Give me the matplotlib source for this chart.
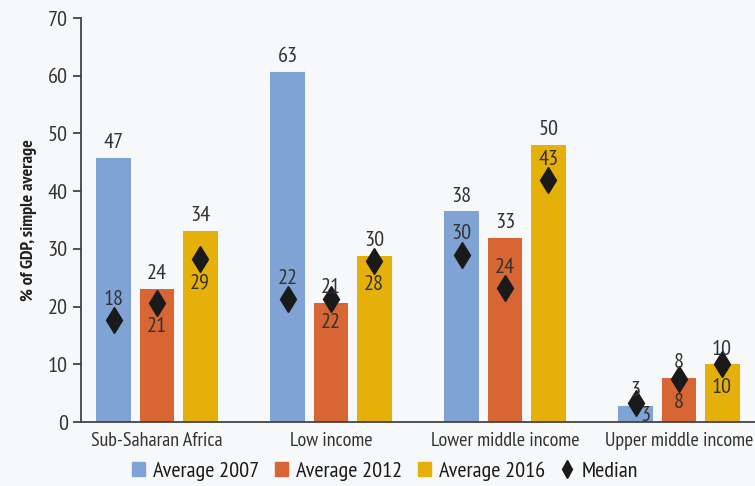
import numpy as np
import matplotlib.pyplot as plt
from matplotlib.patches import Patch
from matplotlib.lines import Line2D

plt.rcParams['font.family'] = ['PT Sans Narrow', 'DejaVu Sans']

categories = ["Sub-Saharan Africa", "Low income", "Lower middle income", "Upper middle income"]
series = ["Average 2007", "Average 2012", "Average 2016"]

# bar heights as drawn, and the printed labels
avg_2007 = [45.8, 60.7, 36.5, 2.8]
avg_2012 = [23.0, 20.7, 31.9, 7.7]
avg_2016 = [33.1, 28.8, 48.0, 10.0]
avg_labels_2007 = ["47", "63", "38", "3"]
avg_labels_2012 = ["24", "21", "33", "8"]
avg_labels_2016 = ["34", "30", "50", "10"]

# medians (diamonds) and their printed labels
med_2007 = [17.6, 21.3, 29.0, 3.3]
med_2012 = [20.6, 21.3, 23.2, 7.5]
med_2016 = [28.2, 27.9, 41.9, 10.0]
med_labels_2007 = ["18", "22", "30", "3"]
med_labels_2012 = ["21", "22", "24", "8"]
med_labels_2016 = ["29", "28", "43", "10"]
# where the median label sits relative to the diamond
med_pos_2007 = ["above", "above", "above", "below"]
med_pos_2012 = ["below", "below", "above", "below"]
med_pos_2016 = ["below", "below", "above", "below"]

colors = ["#80a3d6", "#d76634", "#e6b00b"]
text_col = "#333333"

avgs = [avg_2007, avg_2012, avg_2016]
avg_labels = [avg_labels_2007, avg_labels_2012, avg_labels_2016]
meds = [med_2007, med_2012, med_2016]
med_labels = [med_labels_2007, med_labels_2012, med_labels_2016]
med_pos = [med_pos_2007, med_pos_2012, med_pos_2016]

fig = plt.figure(figsize=(7.55, 4.86), dpi=100, facecolor="#f7f8fa")
ax = fig.add_axes([81 / 755, 1 - 422 / 486, 1 - 81 / 755, (422 - 18) / 486])
ax.set_facecolor("#f7f8fa")

x = np.arange(len(categories))
width = 0.2
step = 0.248

for i in range(3):
    xs = x + (i - 1) * step
    ax.bar(xs, avgs[i], width=width, color=colors[i], zorder=2)
    ax.plot(xs, meds[i], linestyle="none", marker="d", markersize=13,
            color="#1a1a1a", zorder=3)
    for j in range(len(categories)):
        ax.annotate(avg_labels[i][j], (xs[j], avgs[i][j]), xytext=(0, 11),
                    textcoords="offset points", ha="center", va="center",
                    fontsize=16, color=text_col)
        dy = 15 if med_pos[i][j] == "above" else -17
        dx = 0
        if i == 0 and j == 3:
            # tiny bar: label squeezed next to the diamond
            dx, dy = 7, -9
        ax.annotate(med_labels[i][j], (xs[j], meds[i][j]), xytext=(dx, dy),
                    textcoords="offset points", ha="center", va="center",
                    fontsize=16, color=text_col, zorder=4)

ax.set_xlim(-0.437, 3.437)
ax.set_ylim(0, 70)
ax.set_yticks(range(0, 71, 10))
ax.set_xticks(x)
ax.set_xticklabels(categories)
ax.tick_params(axis="y", labelsize=16, colors=text_col, length=6, width=1.2)
ax.tick_params(axis="x", labelsize=14.5, colors=text_col, length=0, pad=7)
for s in ["top", "right"]:
    ax.spines[s].set_visible(False)
for s in ["left", "bottom"]:
    ax.spines[s].set_color("#444444")
    ax.spines[s].set_linewidth(1.3)

ax.set_ylabel("% of GDP, simple average", fontsize=13, fontweight="bold",
              color="#222222", labelpad=8)

handles = [Patch(color=c) for c in colors]
handles.append(Line2D([], [], linestyle="none", marker="d", markersize=9, color="#1a1a1a"))
fig.legend(handles, series + ["Median"], loc="lower center", ncol=4,
           bbox_to_anchor=(0.51, -0.03), frameon=False,
           prop={"size": 16},
           handlelength=0.6, handleheight=0.6, handletextpad=0.35, columnspacing=0.7,
           labelcolor="#1a1a1a")

fig.savefig("out.png", dpi=100, facecolor=fig.get_facecolor())
